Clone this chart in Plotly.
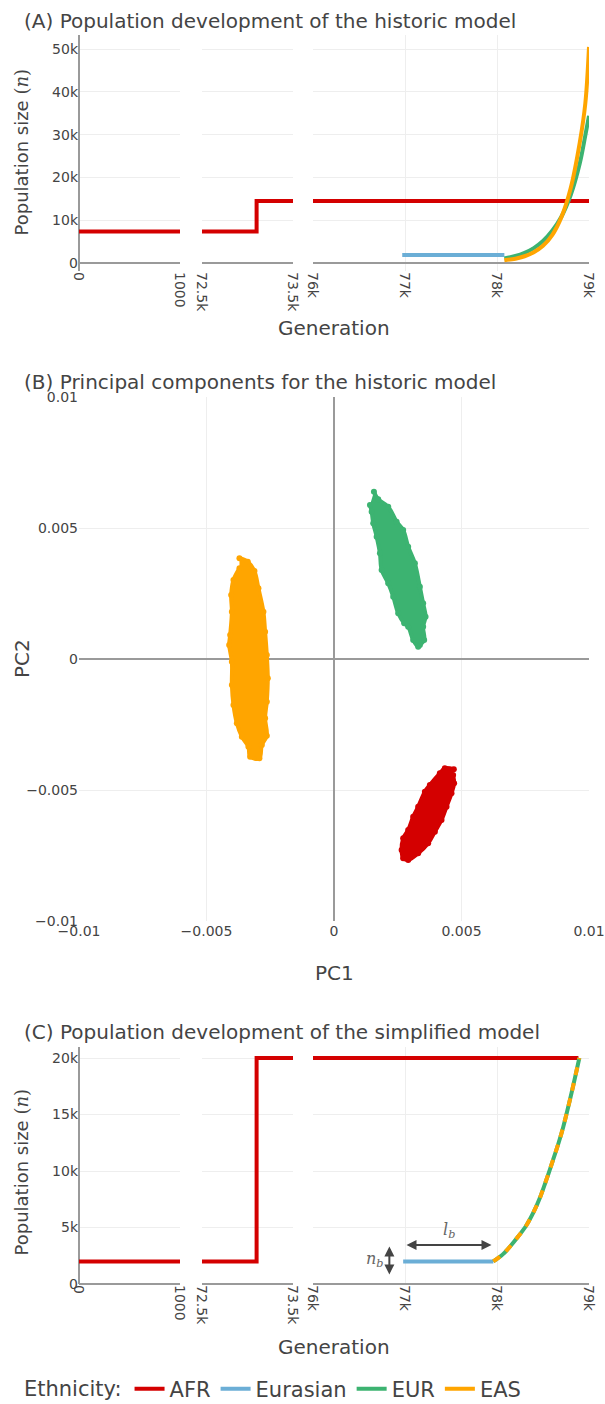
import plotly.graph_objects as go

# ---------------- data ----------------
# Panel A: historic model (generation, population size)
afr_a_gen = [0, 73100, 73100, 79000]
afr_a_n = [7310, 7310, 14474, 14474]
eurasian_a_gen = [76970, 78080]
eurasian_a_n = [1861, 1861]
eur_a_gen = [78080, 78200, 78300, 78400, 78500, 78600, 78700, 78800, 78900, 78960, 79000]
eur_a_n = [1030, 1600, 2350, 3450, 5100, 7500, 10800, 15800, 23300, 29800, 34400]
eas_a_gen = [78080, 78200, 78300, 78400, 78500, 78600, 78700, 78800, 78900, 78960, 79000]
eas_a_n = [600, 980, 1550, 2500, 4000, 6500, 10700, 17400, 28200, 37300, 50500]

# Panel C: simplified model
afr_c_gen = [0, 73100, 73100, 78885]
afr_c_n = [2000, 2000, 20000, 20000]
eurasian_c_gen = [76980, 77960]
eurasian_c_n = [2000, 2000]
split_c_gen = [77960, 78060, 78140, 78230, 78320, 78400, 78470, 78540, 78610, 78670, 78720, 78810, 78895]
split_c_n = [2000, 2600, 3300, 4200, 5200, 6400, 7700, 9300, 11000, 12500, 13900, 16900, 20000]

# Panel B: outlines of the PCA point clouds (PC1, PC2)
eas_pc1 = [-0.003708, -0.003380, -0.003120, -0.002963, -0.002768, -0.002702, -0.002635, -0.002596,
           -0.002635, -0.002702, -0.002635, -0.002831, -0.002925, -0.003289, -0.003356, -0.003614,
           -0.003810, -0.003943, -0.004005, -0.004005, -0.004111, -0.004072, -0.004005, -0.004033,
           -0.003943, -0.003708]
eas_pc2 = [0.003855, 0.003725, 0.003370, 0.002710, 0.001817, 0.001053, 0.000164, -0.000725,
           -0.001618, -0.002252, -0.002916, -0.003271, -0.003779, -0.003718, -0.003336, -0.002954,
           -0.002443, -0.001744, -0.000981, -0.000092, 0.000546, 0.000927, 0.001817, 0.002454,
           0.003027, 0.003473]
eur_pc1 = [0.001566, 0.001735, 0.002126, 0.002455, 0.002713, 0.002909, 0.003171, 0.003367, 0.003496,
           0.003590, 0.003496, 0.003536, 0.003367, 0.003301, 0.003105, 0.002909, 0.002753, 0.002518,
           0.002322, 0.002126, 0.001868, 0.001801, 0.001672, 0.001539, 0.001476, 0.001410]
eur_pc2 = [0.006397, 0.006107, 0.005824, 0.005252, 0.004935, 0.004298, 0.003664, 0.002771, 0.002137,
           0.001626, 0.001244, 0.000737, 0.000546, 0.000481, 0.000737, 0.001244, 0.001374, 0.001756,
           0.002389, 0.002901, 0.003408, 0.004046, 0.004679, 0.005191, 0.005634, 0.005889]
afr_pc1 = [0.004699, 0.004346, 0.004150, 0.003759, 0.003563, 0.003301, 0.003105, 0.002909, 0.002713,
           0.002651, 0.002713, 0.002909, 0.003301, 0.003692, 0.003955, 0.004217, 0.004413, 0.004608,
           0.004710, 0.004671]
afr_pc2 = [-0.004198, -0.004160, -0.004351, -0.004798, -0.005053, -0.005626, -0.006008, -0.006515,
           -0.006832, -0.007279, -0.007595, -0.007660, -0.007405, -0.007023, -0.006580, -0.006134,
           -0.005626, -0.005115, -0.004733, -0.004416]

# ticks
pop_a_ticks = [0, 10000, 20000, 30000, 40000, 50000]
pop_a_labels = ["0", "10k", "20k", "30k", "40k", "50k"]
pop_c_ticks = [0, 5000, 10000, 15000, 20000]
pop_c_labels = ["0", "5k", "10k", "15k", "20k"]
seg1_ticks, seg1_labels = [0, 1000], ["0", "1000"]
seg2_ticks, seg2_labels = [72500, 73500], ["72.5k", "73.5k"]
seg3_ticks, seg3_labels = [76000, 77000, 78000, 79000], ["76k", "77k", "78k", "79k"]

RED = "#D40000"
BLUE = "#6BAED6"
GREEN = "#3CB371"
ORANGE = "#FFA500"
GRID = "#EEEEEE"
ZERO = "#9A9A9A"
LW = 4

fig = go.Figure()

# ---------------- Panel A ----------------
for i, xa in enumerate(["x", "x2", "x3"]):
    show = i == 2
    fig.add_trace(go.Scatter(x=afr_a_gen, y=afr_a_n, mode="lines", line=dict(color=RED, width=LW),
                             name="AFR", legendgroup="AFR", showlegend=show, xaxis=xa, yaxis="y"))
fig.add_trace(go.Scatter(x=eurasian_a_gen, y=eurasian_a_n, mode="lines", line=dict(color=BLUE, width=LW),
                         name="Eurasian", legendgroup="Eurasian", showlegend=True, xaxis="x3", yaxis="y"))
fig.add_trace(go.Scatter(x=eur_a_gen, y=eur_a_n, mode="lines", line=dict(color=GREEN, width=LW, shape="spline"),
                         name="EUR", legendgroup="EUR", showlegend=True, xaxis="x3", yaxis="y"))
fig.add_trace(go.Scatter(x=eas_a_gen, y=eas_a_n, mode="lines", line=dict(color=ORANGE, width=LW, shape="spline"),
                         name="EAS", legendgroup="EAS", showlegend=True, xaxis="x3", yaxis="y"))

# ---------------- Panel B ----------------
for px_, py_, col in [(eas_pc1, eas_pc2, ORANGE), (eur_pc1, eur_pc2, GREEN), (afr_pc1, afr_pc2, RED)]:
    fig.add_trace(go.Scatter(x=px_, y=py_, mode="lines+markers", fill="toself", fillcolor=col,
                             line=dict(color=col, width=4, shape="spline"),
                             marker=dict(color=col, size=6), showlegend=False, xaxis="x4", yaxis="y2"))

# ---------------- Panel C ----------------
for xa in ["x5", "x6", "x7"]:
    fig.add_trace(go.Scatter(x=afr_c_gen, y=afr_c_n, mode="lines", line=dict(color=RED, width=LW),
                             showlegend=False, xaxis=xa, yaxis="y3"))
fig.add_trace(go.Scatter(x=eurasian_c_gen, y=eurasian_c_n, mode="lines", line=dict(color=BLUE, width=LW),
                         showlegend=False, xaxis="x7", yaxis="y3"))
fig.add_trace(go.Scatter(x=split_c_gen, y=split_c_n, mode="lines", line=dict(color=GREEN, width=LW, shape="spline"),
                         showlegend=False, xaxis="x7", yaxis="y3"))
fig.add_trace(go.Scatter(x=split_c_gen, y=split_c_n, mode="lines",
                         line=dict(color=ORANGE, width=LW, dash="8px,8px", shape="spline"),
                         showlegend=False, xaxis="x7", yaxis="y3"))

# the page body margin is removed (post_script), so figure pixels == page pixels
OFF = 0
FIG_W, FIG_H = 605, 1404
M_L, M_R, M_T, M_B = 79, 605 - 589, 0, 40
HP = FIG_H - M_T - M_B
WP = FIG_W - M_L - M_R


def py(page_y):
    return 1 - (page_y - OFF - M_T) / HP


def px(page_x):
    return (page_x - OFF - M_L) / WP


A_dom = [py(271), py(35)]
B_dom = [py(921.3), py(397.3)]
C_dom = [py(1284), py(1046.7)]
seg_doms = [[0, px(180)], [px(202), px(293)], [px(313), 1.0]]

common_x = dict(showgrid=True, gridcolor=GRID, gridwidth=1, zerolinecolor=ZERO, zerolinewidth=2,
                ticks="", showline=False, tickangle=90, tickfont=dict(size=14))
common_y = dict(showgrid=True, gridcolor=GRID, gridwidth=1, zeroline=True, zerolinecolor=ZERO,
                zerolinewidth=2, ticks="", showline=False, tickfont=dict(size=14))

layout = dict(
    width=FIG_W, height=FIG_H,
    margin=dict(l=M_L, r=M_R, t=M_T, b=M_B, autoexpand=False),
    paper_bgcolor="white", plot_bgcolor="white",
    font=dict(family="DejaVu Sans", color="#444", size=14),
)
seg_ticks = [(seg1_ticks, seg1_labels, [0, 1000]), (seg2_ticks, seg2_labels, [72500, 73500]),
             (seg3_ticks, seg3_labels, [76000, 79000])]
for k, (tv, tt, rg) in enumerate(seg_ticks):
    a_name = "xaxis" if k == 0 else f"xaxis{k + 1}"
    c_name = f"xaxis{k + 5}"
    layout[a_name] = dict(common_x, domain=seg_doms[k], range=rg, anchor="y", tickvals=tv, ticktext=tt,
                          zeroline=(k == 0))
    layout[c_name] = dict(common_x, domain=seg_doms[k], range=rg, anchor="y3", tickvals=tv, ticktext=tt,
                          zeroline=(k == 0))
layout["yaxis"] = dict(common_y, domain=A_dom, range=[-1900, 53300], anchor="x",
                       tickvals=pop_a_ticks, ticktext=pop_a_labels)
layout["yaxis3"] = dict(common_y, domain=C_dom, range=[0, 21000], anchor="x5",
                        tickvals=pop_c_ticks, ticktext=pop_c_labels)
layout["xaxis4"] = dict(showgrid=True, gridcolor=GRID, zeroline=True, zerolinecolor=ZERO, zerolinewidth=2,
                        ticks="", showline=False, domain=[0, 1], range=[-0.01, 0.01], dtick=0.005,
                        anchor="y2", tickfont=dict(size=14))
layout["yaxis2"] = dict(showgrid=True, gridcolor=GRID, zeroline=True, zerolinecolor=ZERO, zerolinewidth=2,
                        ticks="", showline=False, domain=B_dom, range=[-0.01, 0.01], dtick=0.005,
                        anchor="x4", tickfont=dict(size=14))

XL = px(22)
layout["legend"] = dict(orientation="h", x=XL, xanchor="left", y=py(1389), yanchor="middle",
                        title=dict(text="Ethnicity:", font=dict(size=21)), font=dict(size=21),
                        traceorder="normal", bgcolor="rgba(0,0,0,0)")
fig.update_layout(**layout)

ytitle = "Population size <span style='font-family:DejaVu Serif'>(<i>n</i>)</span>"
annos = [
    dict(text="(A) Population development of the historic model", x=XL, y=py(21)),
    dict(text="(B) Principal components for the historic model", x=XL, y=py(382)),
    dict(text="(C) Population development of the simplified model", x=XL, y=py(1032)),
]
for a in annos:
    fig.add_annotation(xref="paper", yref="paper", xanchor="left", yanchor="middle", showarrow=False,
                       font=dict(size=20), **a)
for txt, xx, yy, ang, fs in [(ytitle, px(21), py(152.5), -90, 18), ("Generation", px(334), py(328), 0, 20),
                             ("PC2", px(22), py(659), -90, 20), ("PC1", px(334), py(973), 0, 20),
                             (ytitle, px(21), py(1172.5), -90, 18), ("Generation", px(334), py(1347), 0, 20)]:
    fig.add_annotation(xref="paper", yref="paper", xanchor="center", yanchor="middle", showarrow=False,
                       text=txt, x=xx, y=yy, textangle=ang, font=dict(size=fs))

# bottleneck annotations (panel C)
fig.add_annotation(xref="x7", yref="y3", axref="x7", ayref="y3", x=77940, y=3450, ax=77000, ay=3450,
                   text="", showarrow=True, arrowside="end+start", arrowhead=2, startarrowhead=2,
                   arrowsize=1, startarrowsize=1, arrowwidth=2, arrowcolor="#444")
fig.add_annotation(xref="x7", yref="y3", axref="x7", ayref="y3", x=76830, y=850, ax=76830, ay=3450,
                   text="", showarrow=True, arrowside="end+start", arrowhead=2, startarrowhead=2,
                   arrowsize=1, startarrowsize=1, arrowwidth=2, arrowcolor="#444")
fig.add_annotation(xref="x7", yref="y3", x=77480, y=4700, showarrow=False,
                   text="<i>l</i><sub><i>b</i></sub>", font=dict(family="DejaVu Serif", size=16, color="#666"))
fig.add_annotation(xref="x7", yref="y3", x=76670, y=2200, showarrow=False,
                   text="<i>n</i><sub><i>b</i></sub>", font=dict(family="DejaVu Serif", size=16, color="#666"))

fig.write_html("out.html", config={"displayModeBar": False},
               post_script="document.body.style.margin='0px';")
